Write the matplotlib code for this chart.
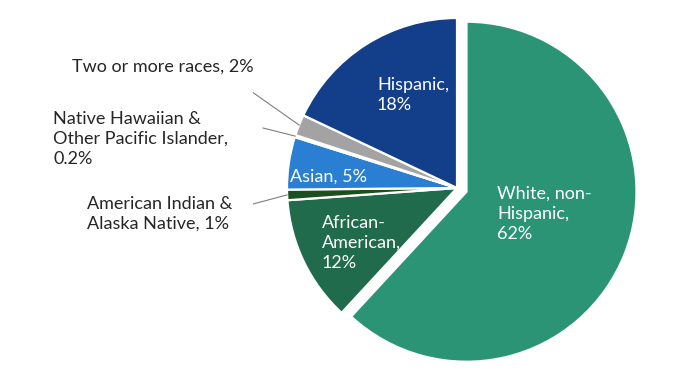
import numpy as np
import matplotlib
matplotlib.use("Agg")
import matplotlib.pyplot as plt

plt.rcParams["font.family"] = ["Lato", "DejaVu Sans"]

# ── data ──
groups = ["White, non-Hispanic", "African-American", "American Indian & Alaska Native",
          "Asian", "Native Hawaiian & Other Pacific Islander", "Two or more races", "Hispanic"]
shares = [62, 12, 1, 5, 0.2, 2, 18]
share_labels = ["62%", "12%", "1%", "5%", "0.2%", "2%", "18%"]
colors = ["#2b9474", "#1f6b4b", "#1b4f1d", "#2a7fd3", "#6e6e6e", "#a3a3a3", "#133f8a"]

# label text as printed
inside_text = {
    0: "White, non-\nHispanic,\n62%",
    1: "African-\nAmerican,\n12%",
    3: "Asian, 5%",
    6: "Hispanic,\n18%",
}
outside_text = {
    2: "American Indian &\nAlaska Native, 1%",
    4: "Native Hawaiian &\nOther Pacific Islander,\n0.2%",
    5: "Two or more races, 2%",
}

R_PX = 170.0  # pie radius in pixels
CX, CY = 457, 188


def px(x, y):
    """pixel (from top-left) -> data coords"""
    return (x - CX) / R_PX, (CY - y) / R_PX


fig = plt.figure(figsize=(6.85, 3.8), dpi=100)
half = 1.2
w = 2 * half * R_PX
ax = fig.add_axes([(CX - half * R_PX) / 685, (380 - CY - half * R_PX) / 380, w / 685, w / 380])

explode = [0.06, 0, 0, 0, 0, 0, 0]
wedges, _ = ax.pie(shares, colors=colors, startangle=90, counterclock=False,
                   explode=explode, radius=1.0,
                   wedgeprops=dict(edgecolor="white", linewidth=1.6))
# pie() resets the limits, so set them afterwards
ax.set_xlim(-half, half)
ax.set_ylim(-half, half)
ax.set_aspect("equal")
ax.axis("off")

# inside labels (left aligned, white)
inside_pos = {0: (497, 214), 1: (322, 243), 3: (290, 177), 6: (377, 95)}
for i, txt in inside_text.items():
    x, y = px(*inside_pos[i])
    ax.text(x, y, txt, color="white", fontsize=13, ha="left", va="center",
            linespacing=1.3)

# outside labels with leader lines
outside_pos = {2: (87, 214), 4: (53, 139), 5: (72, 67)}
line_start = {2: (238, 208), 4: (263, 128), 5: (238, 82)}
for i, txt in outside_text.items():
    x, y = px(*outside_pos[i])
    ax.text(x, y, txt, color="#262626", fontsize=13, ha="left", va="center",
            linespacing=1.3)
    wd = wedges[i]
    mid = np.deg2rad((wd.theta1 + wd.theta2) / 2)
    ex, ey = np.cos(mid) * 1.0, np.sin(mid) * 1.0
    sx, sy = px(*line_start[i])
    ax.plot([sx, ex], [sy, ey], color="#7f7f7f", linewidth=0.8)

fig.savefig("out.png", dpi=100)
